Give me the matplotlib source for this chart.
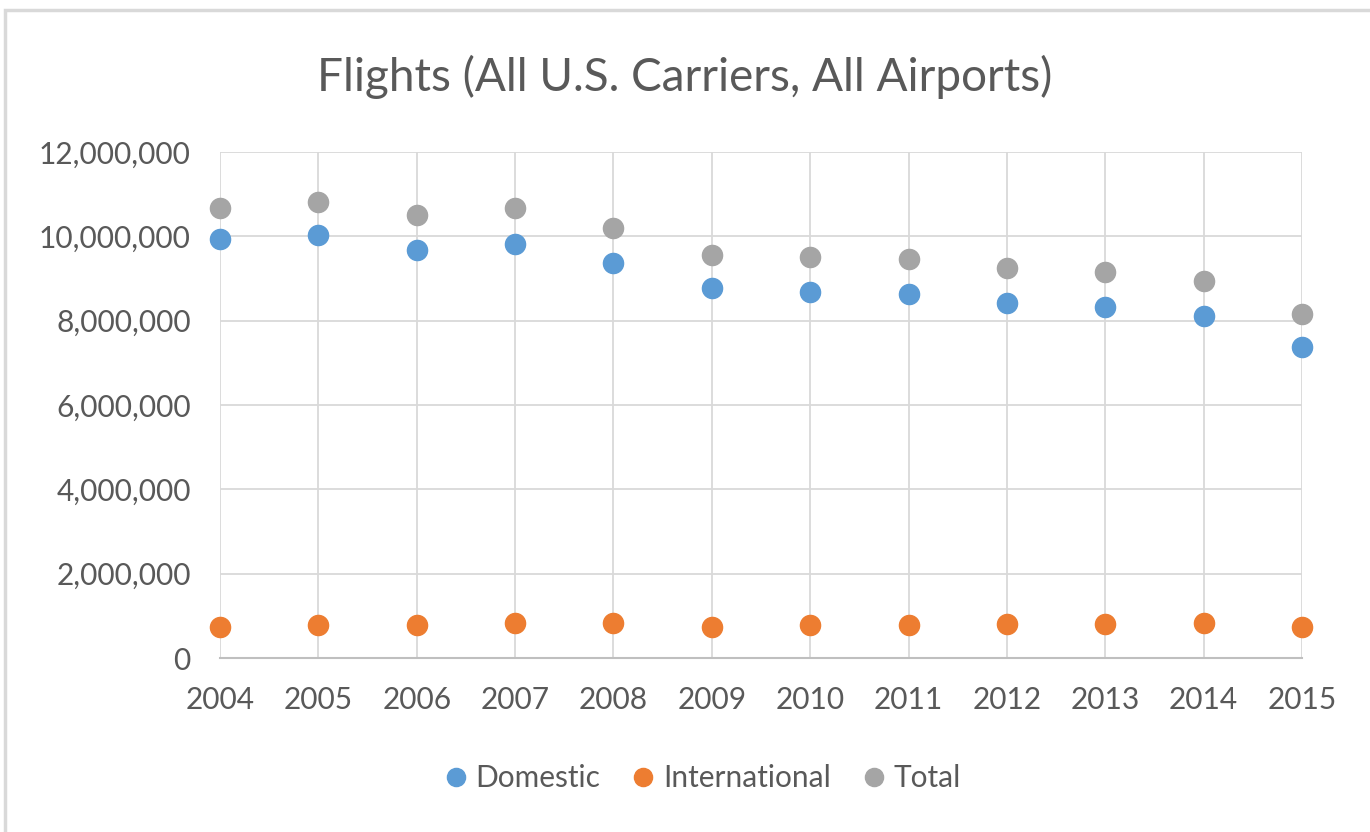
import matplotlib.pyplot as plt
from matplotlib.patches import Rectangle
from matplotlib.ticker import FuncFormatter

years = [2004, 2005, 2006, 2007, 2008, 2009, 2010, 2011, 2012, 2013, 2014, 2015]
domestic = [9.94, 10.03, 9.67, 9.81, 9.37, 8.77, 8.67, 8.64, 8.42, 8.33, 8.12, 7.38]
international = [0.74, 0.78, 0.78, 0.82, 0.82, 0.73, 0.78, 0.78, 0.81, 0.81, 0.82, 0.74]
total = [10.68, 10.81, 10.50, 10.68, 10.20, 9.55, 9.51, 9.47, 9.25, 9.16, 8.94, 8.16]

# values above are in millions
domestic = [v * 1e6 for v in domestic]
international = [v * 1e6 for v in international]
total = [v * 1e6 for v in total]

text_col = "#595959"
grid_col = "#D9D9D9"

plt.rcParams["font.family"] = ["Lato", "DejaVu Sans"]

fig = plt.figure(figsize=(13.7, 8.32), dpi=100)
fig.patches.append(Rectangle((5 / 1370, -0.1), 1.2, 1 - 10 / 832 + 0.1,
                             transform=fig.transFigure, fill=False,
                             edgecolor=grid_col, linewidth=2.5))

ax = fig.add_axes([220 / 1370, 1 - 658 / 832, (1302 - 220) / 1370, (658 - 152) / 832])

ax.plot(years, domestic, "o", color="#5B9BD5", markersize=14.5, label="Domestic",
        zorder=3, clip_on=False)
ax.plot(years, international, "o", color="#ED7D31", markersize=14.5, label="International",
        zorder=3, clip_on=False)
ax.plot(years, total, "o", color="#A5A5A5", markersize=14.5, label="Total",
        zorder=3, clip_on=False)

ax.set_xlim(2004, 2015)
ax.set_ylim(0, 12e6)
ax.set_xticks(years)
ax.set_yticks(range(0, 12000001, 2000000))
ax.yaxis.set_major_formatter(FuncFormatter(lambda v, p: f"{int(v):,}"))

ax.grid(True, color=grid_col, linewidth=1.3)
ax.set_axisbelow(True)
for s in ["top", "right", "left"]:
    ax.spines[s].set_visible(False)
ax.spines["bottom"].set_color("#BFBFBF")
ax.spines["bottom"].set_linewidth(1.5)
ax.tick_params(length=0, labelsize=21.5, labelcolor=text_col)
ax.tick_params(axis="x", pad=20)
ax.tick_params(axis="y", pad=21)

fig.text(0.5, 1 - 77 / 832, "Flights (All U.S. Carriers, All Airports)",
         ha="center", va="center", fontsize=33, color=text_col)

fig.legend(loc="center", bbox_to_anchor=(703 / 1370, 1 - 778 / 832), ncol=3,
           frameon=False, fontsize=21.5, labelcolor=text_col, handlelength=0.7,
           handletextpad=0.3, columnspacing=1.1, markerscale=0.9)

plt.savefig("out.png", dpi=100)
